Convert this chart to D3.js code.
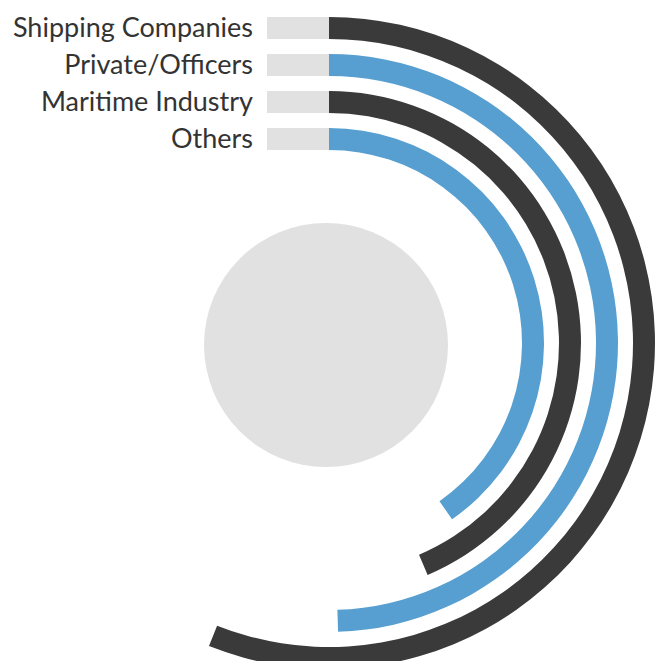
<!DOCTYPE html>
<html lang="en">
<head>
<meta charset="utf-8">
<title>Radial bars</title>
<script src="https://d3js.org/d3.v7.min.js"></script>
<style>
body { margin: 0; background: #fff; }
.label { fill: #333; font-family: Lato, "Open Sans", sans-serif; font-size: 27px; }
</style>
</head>
<body>
<script>
// categories, outer ring first
var categories = ["Shipping Companies", "Private/Officers", "Maritime Industry", "Others"];
// share of a full turn, in percent
var values = [56, 49.5, 43.6, 40.3];
var colors = ["#3a3a3a", "#569fd0", "#3a3a3a", "#569fd0"];

var width = 662, height = 661;
var cx = 329, cy = 343;

var svg = d3.select("body").append("svg")
  .attr("width", width)
  .attr("height", height);

var angle = d3.scaleLinear().domain([0, 100]).range([0, 2 * Math.PI]);
// ring center radius per category
var radius = d3.scalePoint().domain(categories).range([315, 204]);
var band = 22;

// grey hub
svg.append("circle")
  .attr("cx", cx - 3)
  .attr("cy", cy + 2)
  .attr("r", 122)
  .attr("fill", "#e1e1e1");

var g = svg.append("g").attr("transform", "translate(" + cx + "," + cy + ")");

var arc = d3.arc()
  .innerRadius(function(d) { return radius(d.cat) - band / 2; })
  .outerRadius(function(d) { return radius(d.cat) + band / 2; })
  .startAngle(0)
  .endAngle(function(d) { return angle(d.value); });

var data = categories.map(function(c, i) { return {cat: c, value: values[i], color: colors[i]}; });

// grey lead-in bars
g.selectAll("rect.lead")
  .data(data)
  .enter().append("rect")
  .attr("class", "lead")
  .attr("x", -62)
  .attr("y", function(d) { return -radius(d.cat) - band / 2; })
  .attr("width", 62)
  .attr("height", band)
  .attr("fill", "#e1e1e1");

g.selectAll("path.ring")
  .data(data)
  .enter().append("path")
  .attr("class", "ring")
  .attr("d", arc)
  .attr("fill", function(d) { return d.color; });

g.selectAll("text.label")
  .data(data)
  .enter().append("text")
  .attr("class", "label")
  .attr("x", -76)
  .attr("y", function(d) { return -radius(d.cat); })
  .attr("dy", "0.35em")
  .attr("text-anchor", "end")
  .text(function(d) { return d.cat; });
</script>
</body>
</html>
